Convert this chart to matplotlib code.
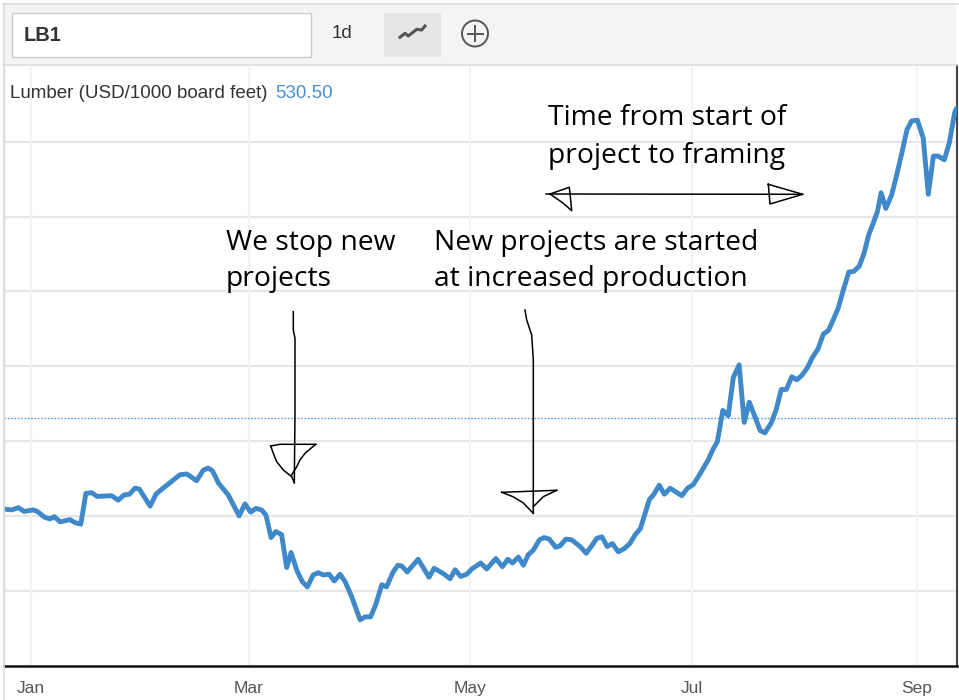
import matplotlib
matplotlib.use("Agg")
import matplotlib.pyplot as plt
import matplotlib.dates as mdates
from matplotlib.patches import Rectangle, Ellipse
from matplotlib.lines import Line2D
from datetime import datetime

# ---------------- data (days since 2020-01-01, USD/1000 board feet) ----------------
days = [-7.4, -5.2, -3.4, -1.8, 0.7, 1.8, 3.9, 5.3, 6.5, 8.1,
        10.8, 12.2, 13.8, 15.2, 16.8, 18.3, 22.3, 24.1, 25.7, 27.2,
        28.7, 29.9, 32.9, 34.5, 36.2, 38.8, 41.1, 43.0, 45.7, 47.5,
        48.9, 50.1, 51.7, 54.4, 57.4, 59.0, 60.6, 62.0, 63.6, 64.8,
        66.2, 67.5, 69.1, 70.5, 71.7, 73.3, 74.8, 76.2, 77.8, 79.2,
        80.6, 82.2, 83.6, 85.2, 86.6, 88.4, 90.7, 92.1, 93.6, 95.0,
        96.7, 98.0, 99.7, 101.1, 102.2, 103.7, 106.7, 109.7, 111.1, 113.6,
        115.5, 116.9, 118.4, 120.1, 121.5, 123.9, 125.6, 128.1, 129.9, 131.4,
        132.7, 134.3, 135.7, 137.0, 138.4, 140.1, 141.4, 142.8, 144.6, 145.8,
        147.4, 149.0, 151.3, 153.0, 154.5, 155.9, 157.3, 158.8, 160.2, 161.8,
        163.4, 165.0, 166.5, 167.9, 170.4, 171.5, 173.1, 174.5, 176.1, 177.7,
        179.3, 180.9, 182.5, 184.3, 186.6, 188.0, 189.1, 190.6, 192.1, 193.5,
        195.1, 196.5, 197.9, 199.5, 200.9, 202.2, 203.9, 205.3, 206.7, 208.1,
        209.6, 211.0, 212.4, 213.9, 215.3, 216.8, 218.3, 219.7, 221.0, 222.4,
        223.8, 225.3, 226.7, 228.2, 229.5, 230.8, 232.0, 233.2, 234.2, 235.5,
        237.1, 238.5, 239.9, 241.3, 242.6, 244.2, 245.8, 247.2, 248.6, 249.9,
        251.6, 253.0, 254.5, 255.0]

values = [409, 408, 411, 406, 408, 406, 398, 396, 399, 392,
          395, 391, 389, 430, 431, 426, 427, 421, 428, 429,
          437, 436, 413, 429, 436, 446, 455, 456, 447, 461,
          464, 460, 444, 428, 400, 416, 405, 410, 408, 401,
          371, 379, 375, 331, 351, 327, 312, 305, 321, 324,
          321, 322, 313, 322, 312, 292, 261, 265, 265, 281,
          308, 305, 324, 334, 333, 325, 342, 318, 330, 323,
          316, 328, 319, 322, 329, 337, 329, 343, 332, 342,
          337, 345, 334, 348, 354, 368, 371, 369, 358, 360,
          369, 368, 359, 350, 360, 370, 372, 359, 363, 352,
          356, 363, 375, 383, 422, 428, 441, 429, 437, 432,
          427, 437, 442, 456, 475, 490, 499, 541, 534, 585,
          602, 525, 552, 532, 514, 511, 524, 542, 569, 569,
          586, 582, 588, 598, 612, 623, 643, 648, 662, 678,
          702, 726, 727, 734, 751, 776, 791, 807, 832, 811,
          829, 856, 885, 916, 928, 929, 905, 830, 881, 881,
          876, 899, 940, 945]

ref_value = 530.50
tick_dates = ["2020-01-01", "2020-03-01", "2020-05-01", "2020-07-01", "2020-09-01"]
tick_labels = ["Jan", "Mar", "May", "Jul", "Sep"]
y_grid = [300, 400, 500, 600, 700, 800, 900]

title_text = "Lumber (USD/1000 board feet)"
symbol = "LB1"

# ---------------- figure ----------------
W, H = 959, 700
fig = plt.figure(figsize=(W / 100, H / 100), dpi=100)
fig.patch.set_facecolor("white")

def fx(x):
    return x / W

def fy(y):
    return 1 - y / H

# axes placement (pixels)
L, R, T, B = 4, 957, 65, 666
ax = fig.add_axes([fx(L), fy(B), (R - L) / W, (B - T) / H])
ax.set_facecolor("white")

base = mdates.date2num(datetime(2020, 1, 1))
xs = [base + d for d in days]
ax.set_xlim(base - 7.35, base + 255.1)
ax.set_ylim(199.3, 1002.8)

# grid
for v in y_grid:
    ax.axhline(v, color="#e6e6e6", lw=1.6, zorder=0)
tick_x = [mdates.date2num(datetime.strptime(t, "%Y-%m-%d")) for t in tick_dates]
for tx in tick_x:
    ax.axvline(tx, color="#f0f4f9", lw=1.6, zorder=0)

ax.axhline(ref_value, color="#5b9bd5", lw=1.0, ls=(0, (1.2, 1.2)), zorder=1)

ax.plot(xs, values, color="#3f88c9", lw=3.5, solid_joinstyle="round",
        solid_capstyle="round", zorder=3)

ax.set_yticks([])
ax.set_xticks(tick_x)
ax.set_xticklabels(tick_labels, fontsize=12.5, color="#555555", family="Liberation Sans")
ax.tick_params(axis="x", length=0, pad=11)

ax.spines["top"].set_visible(False)
ax.spines["bottom"].set_color("#111111")
ax.spines["bottom"].set_linewidth(1.8)
ax.spines["left"].set_color("#cccccc")
ax.spines["left"].set_linewidth(1.0)
ax.spines["right"].set_color("#444444")
ax.spines["right"].set_linewidth(1.5)

# ---------------- toolbar header ----------------
fig.patches.append(Rectangle((fx(3), fy(64)), fx(956) - fx(3), fy(4) - fy(64),
                             transform=fig.transFigure, facecolor="#f4f4f4",
                             edgecolor="none", zorder=0))
fig.lines.append(Line2D([fx(3), fx(958)], [fy(4), fy(4)], transform=fig.transFigure,
                        color="#dddddd", lw=1.2))
fig.lines.append(Line2D([fx(3), fx(958)], [fy(64.5), fy(64.5)], transform=fig.transFigure,
                        color="#dddddd", lw=1.2))
fig.lines.append(Line2D([fx(3.5), fx(3.5)], [fy(4), fy(700)], transform=fig.transFigure,
                        color="#dddddd", lw=1.2))
# input box
fig.patches.append(Rectangle((fx(12), fy(57)), fx(311) - fx(12), fy(13) - fy(57),
                             transform=fig.transFigure, facecolor="white",
                             edgecolor="#cccccc", lw=1.0, zorder=1))
fig.text(fx(24), fy(35.5), symbol, fontsize=14.4, fontweight="bold", color="#333333",
         family="Liberation Sans", va="center", ha="left")
fig.text(fx(332), fy(34), "1d", fontsize=13.5, color="#333333",
         family="Liberation Sans", va="center", ha="left")
# chart-type button
fig.patches.append(Rectangle((fx(384), fy(57)), fx(441) - fx(384), fy(13) - fy(57),
                             transform=fig.transFigure, facecolor="#e6e6e6",
                             edgecolor="none", zorder=1))
icon_x = [400, 405, 408.3, 416.7, 421.7, 425]
icon_y = [37.3, 33.3, 36, 29.3, 30, 26]
fig.lines.append(Line2D([fx(v) for v in icon_x], [fy(v) for v in icon_y],
                        transform=fig.transFigure, color="#555555", lw=2.2,
                        solid_joinstyle="round", zorder=2))
# plus-in-circle button
fig.patches.append(Ellipse((fx(475), fy(33.5)), 26.0 / W, 26.0 / H, transform=fig.transFigure,
                           facecolor="none", edgecolor="#555555", lw=1.4, zorder=2))
fig.lines.append(Line2D([fx(467.5), fx(482.5)], [fy(33.5), fy(33.5)], transform=fig.transFigure,
                        color="#555555", lw=1.4))
fig.lines.append(Line2D([fx(475), fx(475)], [fy(26), fy(41)], transform=fig.transFigure,
                        color="#555555", lw=1.4))

# title inside chart
fig.text(fx(10), fy(94), title_text, fontsize=13.5, color="#333333",
         family="Liberation Sans", va="center", ha="left")
fig.text(fx(275), fy(94), f"{ref_value:.2f}", fontsize=13.5, color="#4a8fd6",
         family="Liberation Sans", va="center", ha="left")

# ---------------- hand-written annotations ----------------
afont = dict(fontsize=20.3, color="black", family="Open Sans", va="center", ha="left")
fig.text(fx(548), fy(118), "Time from start of", **afont)
fig.text(fx(548), fy(156), "project to framing", **afont)
fig.text(fx(226), fy(243), "We stop new", **afont)
fig.text(fx(226), fy(279), "projects", **afont)
fig.text(fx(434), fy(243), "New projects are started", **afont)
fig.text(fx(434), fy(279), "at increased production", **afont)

def stroke(xp, yp, lw=1.1):
    fig.lines.append(Line2D([fx(v) for v in xp], [fy(v) for v in yp],
                            transform=fig.transFigure, color="black", lw=lw, zorder=5))

# arrow 1 (We stop new projects)
stroke([293.3, 293.3, 295, 295, 294.3], [311.7, 330, 338.3, 413.3, 482.7])
stroke([270.7, 280, 315.7], [446, 444.3, 444.3])
stroke([270.7, 273.3, 276.7, 283.3, 291.7, 294.3], [446, 453.3, 461.7, 470, 476.7, 482.7])
stroke([315.7, 305, 300, 296.7, 291.7], [444.3, 453.3, 460, 466.7, 475])

# arrow 2 (New projects)
stroke([525, 526.7, 531.7, 533.3, 533.3], [310, 320, 335, 360, 513.3])
stroke([501.7, 556.7], [492.3, 490.3])
stroke([501.7, 513, 523, 533.3], [492.3, 496.7, 502.7, 513.3])
stroke([556.7, 543.3, 533.3], [490.3, 496.7, 506.7])

# double arrow (time from start to framing)
stroke([546, 802.7], [194, 194.3])
stroke([550, 569.3, 570, 571.7, 563.3, 550], [194, 187.3, 193.3, 210.7, 203.3, 194])
stroke([768.3, 802.7, 770, 768.3], [184.3, 194.3, 204, 184.3])

fig.savefig("out.png", dpi=100, facecolor="white")
